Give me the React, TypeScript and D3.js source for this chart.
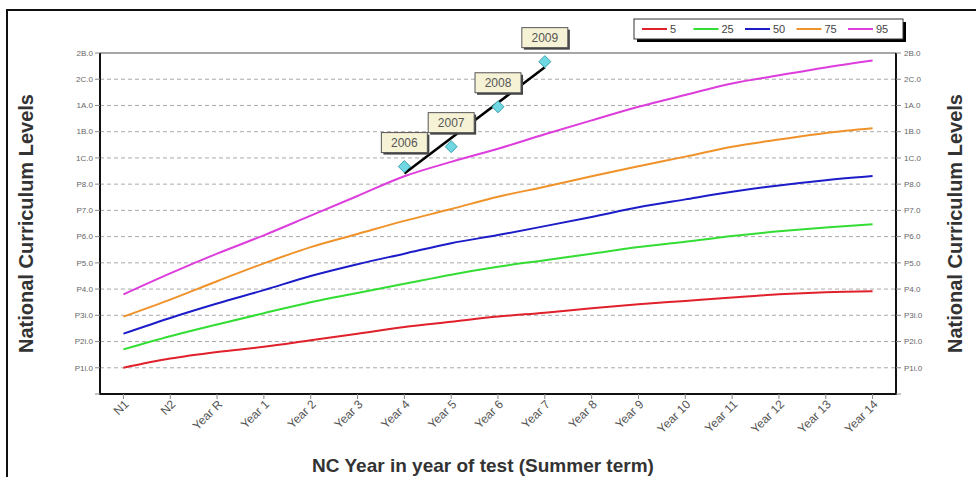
import React from 'react';
import * as d3 from 'd3';

// NC year categories along the bottom
const categories = ['N1', 'N2', 'Year R', 'Year 1', 'Year 2', 'Year 3', 'Year 4', 'Year 5', 'Year 6',
  'Year 7', 'Year 8', 'Year 9', 'Year 10', 'Year 11', 'Year 12', 'Year 13', 'Year 14'];

// level labels, value 1 .. 13
const levelLabels = ['P1i.0', 'P2i.0', 'P3i.0', 'P4.0', 'P5.0', 'P6.0', 'P7.0', 'P8.0',
  '1C.0', '1B.0', '1A.0', '2C.0', '2B.0'];

// percentile curves
const p5 = [1.0, 1.35, 1.6, 1.8, 2.05, 2.3, 2.55, 2.75, 2.95, 3.1, 3.27, 3.42, 3.55, 3.68, 3.8, 3.88, 3.92];
const p25 = [1.7, 2.2, 2.65, 3.08, 3.5, 3.85, 4.2, 4.55, 4.85, 5.1, 5.35, 5.6, 5.8, 6.02, 6.2, 6.35, 6.47];
const p50 = [2.3, 2.9, 3.45, 3.96, 4.5, 4.95, 5.35, 5.75, 6.06, 6.4, 6.75, 7.12, 7.42, 7.71, 7.95, 8.15, 8.31];
const p75 = [2.95, 3.6, 4.3, 4.98, 5.6, 6.1, 6.6, 7.05, 7.52, 7.9, 8.3, 8.68, 9.05, 9.43, 9.7, 9.95, 10.13];
const p95 = [3.8, 4.6, 5.35, 6.05, 6.8, 7.55, 8.3, 8.85, 9.35, 9.9, 10.43, 10.95, 11.4, 11.84, 12.15, 12.45, 12.71];

const seriesNames = ['5', '25', '50', '75', '95'];
const seriesColors = ['#e0202a', '#33dd33', '#1c1cc8', '#f0922a', '#dd3ddd'];
const seriesValues = [p5, p25, p50, p75, p95];

// pupil results
const pupilYears = ['2006', '2007', '2008', '2009'];
const pupilCats = ['Year 4', 'Year 5', 'Year 6', 'Year 7'];
const pupilValues = [8.67, 9.43, 10.95, 12.67];

const font = '"Liberation Sans", Arial, sans-serif';

export default function App() {
  const width = 976;
  const height = 477;
  const left = 100, right = 896, top = 53, bottom = 394;

  const x = d3.scalePoint<string>().domain(categories).range([left, right]).padding(0.5);
  const y = d3.scaleLinear().domain([0, 13]).range([bottom, top]);

  const line = d3.line<number>()
    .x((_, i) => x(categories[i]) as number)
    .y(d => y(d))
    .curve(d3.curveMonotoneX);

  // least squares trend through the pupil points
  const idx = pupilValues.map((_, i) => i);
  const mx = d3.mean(idx) as number;
  const my = d3.mean(pupilValues) as number;
  const slope = d3.sum(idx, i => (i - mx) * (pupilValues[i] - my)) / d3.sum(idx, i => (i - mx) * (i - mx));
  const icpt = my - slope * mx;
  const t0 = icpt;
  const t1 = icpt + slope * (idx.length - 1);

  const ticks = d3.range(1, 14);

  return (
    <svg width={width} height={height} style={{ position: 'absolute', left: 0, top: 0, background: '#fff' }}
      fontFamily={font}>
      {/* outer frame */}
      <rect x={7} y={10} width={990} height={500} fill="#fff" stroke="#111" strokeWidth={2} />

      {/* grid */}
      {ticks.slice(0, 12).map(t => (
        <line key={t} x1={left} x2={right} y1={y(t)} y2={y(t)} stroke="#aaa" strokeWidth={1} strokeDasharray="4,3" />
      ))}

      {/* plot frame */}
      <line x1={left} x2={right} y1={top} y2={top} stroke="#888" strokeWidth={1.5} />
      <line x1={left} x2={left} y1={top} y2={bottom} stroke="#111" strokeWidth={2} />
      <line x1={right} x2={right} y1={top} y2={bottom} stroke="#111" strokeWidth={2} />
      <line x1={left - 1} x2={right + 1} y1={bottom} y2={bottom} stroke="#111" strokeWidth={2} />

      {/* y ticks both sides */}
      {[0, ...ticks].map(t => (
        <g key={'yt' + t}>
          <line x1={left - 5} x2={left} y1={y(t)} y2={y(t)} stroke="#888" />
          <line x1={right} x2={right + 5} y1={y(t)} y2={y(t)} stroke="#888" />
          {t > 0 && (
            <>
              <text x={left - 7} y={y(t)} dy="0.35em" textAnchor="end" fontSize={8} fill="#666">{levelLabels[t - 1]}</text>
              <text x={right + 8} y={y(t)} dy="0.35em" textAnchor="start" fontSize={8} fill="#666">{levelLabels[t - 1]}</text>
            </>
          )}
        </g>
      ))}

      {/* x ticks */}
      {categories.map(c => (
        <g key={c}>
          <line x1={x(c)} x2={x(c)} y1={bottom} y2={bottom + 5} stroke="#888" />
          <text transform={`translate(${(x(c) as number) + 6},${bottom + 11}) rotate(-45)`} textAnchor="end"
            fontSize={12} fill="#555">{c}</text>
        </g>
      ))}

      {/* percentile lines */}
      {seriesValues.map((vals, i) => (
        <path key={seriesNames[i]} d={line(vals) as string} fill="none" stroke={seriesColors[i]} strokeWidth={2} />
      ))}

      {/* pupil trend + points */}
      <line x1={x(pupilCats[0])} x2={x(pupilCats[pupilCats.length - 1])} y1={y(t0)} y2={y(t1)}
        stroke="#000" strokeWidth={2.5} />
      {pupilValues.map((v, i) => {
        const px = x(pupilCats[i]) as number;
        const py = y(v);
        return (
          <g key={pupilYears[i]}>
            <path d={`M${px},${py - 6}L${px + 6},${py}L${px},${py + 6}L${px - 6},${py}Z`} fill="#6fd8e2" stroke="#3aa0b0" strokeWidth={1} />
            <rect x={px - 21} y={py - 32} width={46} height={20} fill="#444" />
            <rect x={px - 23} y={py - 34} width={46} height={20} fill="#f6f2d6" stroke="#555" strokeWidth={1} />
            <text x={px} y={py - 24} dy="0.35em" textAnchor="middle" fontSize={12} fill="#555">{pupilYears[i]}</text>
          </g>
        );
      })}

      {/* legend */}
      <rect x={637} y={22} width={269} height={20} fill="#000" />
      <rect x={634} y={19} width={269} height={20} fill="#fff" stroke="#333" strokeWidth={1} />
      {seriesNames.map((n, i) => (
        <g key={'lg' + n} transform={`translate(${642 + i * 51.5},29)`}>
          <line x1={0} x2={25} y1={0} y2={0} stroke={seriesColors[i]} strokeWidth={2} />
          <text x={28} y={0} dy="0.35em" fontSize={11} fill="#444">{n}</text>
        </g>
      ))}

      {/* axis titles */}
      <text transform={`translate(33,${(top + bottom) / 2}) rotate(-90)`} textAnchor="middle" fontSize={20}
        fontWeight="bold" fill="#333">National Curriculum Levels</text>
      <text transform={`translate(962,${(top + bottom) / 2}) rotate(-90)`} textAnchor="middle" fontSize={20}
        fontWeight="bold" fill="#333">National Curriculum Levels</text>
      <text x={483} y={472} textAnchor="middle" fontSize={19} fontWeight="bold" fill="#333">
        NC Year in year of test (Summer term)</text>
    </svg>
  );
}
